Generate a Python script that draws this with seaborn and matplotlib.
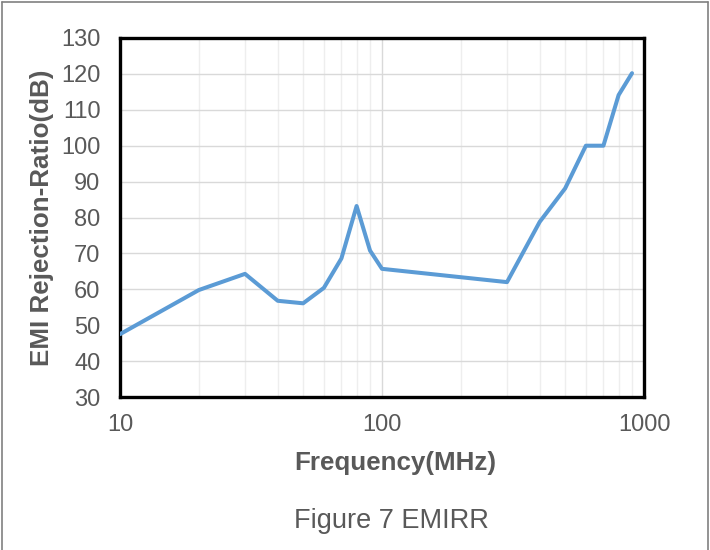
import matplotlib
matplotlib.use("Agg")
import matplotlib.pyplot as plt
from matplotlib.ticker import FixedLocator, NullFormatter
from matplotlib.lines import Line2D
import seaborn as sns
import pandas as pd

freq_mhz = [10, 20, 30, 40, 50, 60, 70, 80, 90, 100, 300, 400, 500, 600, 700, 800, 900]
emirr_db = [47.5, 59.8, 64.3, 56.8, 56.1, 60.4, 68.6, 83.2, 70.8, 65.7, 62.0, 78.8, 88.1, 100, 100, 114.1, 120.2]
x_ticks = [10, 100, 1000]
x_tick_labels = ["10", "100", "1000"]
y_ticks = list(range(30, 131, 10))

sns.set_theme(style="white")
plt.rcParams['font.family'] = ['Liberation Sans', 'DejaVu Sans']

df = pd.DataFrame({"freq": freq_mhz, "db": emirr_db})

fig = plt.figure(figsize=(7.1, 5.5), dpi=100)
ax = fig.add_axes([120/710, 1 - 397/550, (644-120)/710, (397-38)/550])

sns.lineplot(data=df, x="freq", y="db", ax=ax, color="#5B9BD5", linewidth=2.9, zorder=3)

ax.set_xscale("log")
ax.set_xlim(10, 1000)
ax.set_ylim(30, 130)
ax.xaxis.set_major_locator(FixedLocator(x_ticks))
ax.set_xticklabels(x_tick_labels)
minor = [m * d for d in (10, 100) for m in range(2, 10)]
ax.xaxis.set_minor_locator(FixedLocator(minor))
ax.xaxis.set_minor_formatter(NullFormatter())
ax.set_yticks(y_ticks)

ax.grid(True, which="major", axis="both", color="#D9D9D9", linewidth=1.0, zorder=0)
ax.grid(True, which="minor", axis="x", color="#EEEEEE", linewidth=1.0, zorder=0)
ax.set_axisbelow(True)

for s in ax.spines.values():
    s.set_color("black")
    s.set_linewidth(2.4)

ax.tick_params(axis="both", which="both", length=0, labelsize=17, labelcolor="#595959")
ax.tick_params(axis="y", pad=14)
ax.tick_params(axis="x", pad=12)
ax.set_xlabel("Frequency(MHz)", fontsize=18.7, fontweight="bold", color="#595959")
ax.set_ylabel("EMI Rejection-Ratio(dB)", fontsize=18.7, fontweight="bold", color="#595959")
ax.xaxis.label.set_va("center")
ax.yaxis.label.set_va("center")
ax.xaxis.set_label_coords((395 - 120) / 524, (397 - 463) / 359)
ax.yaxis.set_label_coords((42 - 120) / 524, 0.5)

fig.text(391/710, 1 - 521/550, "Figure 7 EMIRR", ha="center", va="center", fontsize=19.5, color="#595959")

# outer figure border (left, top, right)
fig.add_artist(Line2D([2/710, 2/710], [0, 1 - 2/550], transform=fig.transFigure, color="#808080", linewidth=1.2))
fig.add_artist(Line2D([2/710, 708/710], [1 - 2/550, 1 - 2/550], transform=fig.transFigure, color="#808080", linewidth=1.2))
fig.add_artist(Line2D([708/710, 708/710], [0, 1 - 2/550], transform=fig.transFigure, color="#808080", linewidth=1.2))

fig.savefig("out.png", dpi=100)
